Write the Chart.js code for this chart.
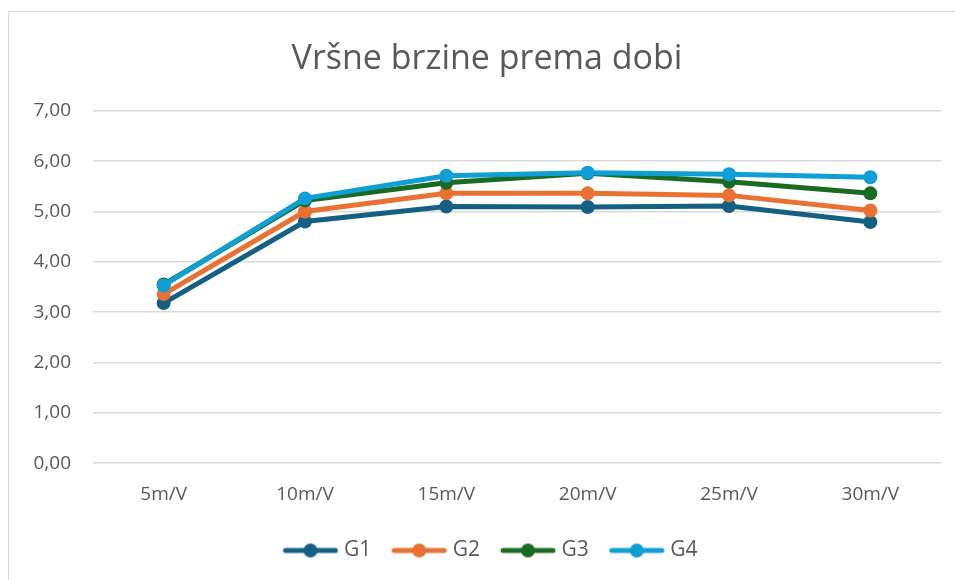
<!DOCTYPE html>
<html>
<head>
<meta charset="utf-8">
<script src="https://cdn.jsdelivr.net/npm/chart.js@4"></script>
<style>
    html, body { margin: 0; padding: 0; background: #ffffff; overflow: hidden; }
    #wrap {
        position: absolute;
        left: 8px;
        top: 11px;
        width: 947px;
        height: 569px;
        border-left: 1px solid #d9d9d9;
        border-top: 1px solid #d9d9d9;
    }
</style>
</head>
<body>
<div id="wrap"><canvas id="chart"></canvas></div>
<script>
// Categories and series
const categories = ['5m/V', '10m/V', '15m/V', '20m/V', '25m/V', '30m/V'];
const g1 = [3.18, 4.80, 5.10, 5.09, 5.11, 4.79];
const g2 = [3.36, 5.00, 5.36, 5.36, 5.32, 5.02];
const g3 = [3.55, 5.22, 5.57, 5.76, 5.59, 5.36];
const g4 = [3.53, 5.26, 5.71, 5.77, 5.74, 5.68];
const seriesNames = ['G1', 'G2', 'G3', 'G4'];
const seriesColors = ['#156082', '#E97132', '#196B24', '#0F9ED5'];
const yTicks = [0, 1, 2, 3, 4, 5, 6, 7];

const textColor = '#595959';
const gridColor = '#d9d9d9';

// Legend marker box: width of the marker image, and the reserved box
const markerBox = 57;

// Legend marker: short line with a dot in the middle, pushed to the right of the image
function legendMarker(color) {
    const c = document.createElement('canvas');
    c.width = markerBox + 10;
    c.height = 16;
    const ctx = c.getContext('2d');
    const x0 = c.width - 56;
    ctx.strokeStyle = color;
    ctx.lineWidth = 5;
    ctx.lineCap = 'round';
    ctx.beginPath();
    ctx.moveTo(x0 + 3, 8);
    ctx.lineTo(x0 + 53, 8);
    ctx.stroke();
    ctx.fillStyle = color;
    ctx.beginPath();
    ctx.arc(x0 + 28, 8, 7, 0, Math.PI * 2);
    ctx.fill();
    return c;
}
const markers = seriesColors.map(legendMarker);

const seriesData = [g1, g2, g3, g4];
const datasets = seriesData.map((d, i) => ({
    label: seriesNames[i],
    data: d,
    borderColor: seriesColors[i],
    backgroundColor: seriesColors[i],
    borderWidth: 5,
    pointRadius: 7,
    pointHoverRadius: 7,
    pointBorderWidth: 0,
    tension: 0,
    order: seriesData.length - i
}));

const ctx = document.getElementById('chart').getContext('2d');
new Chart(ctx, {
    type: 'line',
    data: { labels: categories, datasets: datasets },
    options: {
        responsive: true,
        maintainAspectRatio: false,
        animation: false,
        layout: {
            padding: { left: 24, right: 15, top: 0, bottom: 10 }
        },
        plugins: {
            title: {
                display: true,
                text: 'Vršne brzine prema dobi',
                color: textColor,
                font: { family: 'Open Sans', size: 34, weight: 'normal' },
                padding: { top: 27, bottom: 31 }
            },
            legend: {
                position: 'bottom',
                labels: {
                    color: textColor,
                    font: { family: 'Open Sans', size: 21 },
                    usePointStyle: true,
                    pointStyleWidth: markerBox,
                    padding: 14,
                    generateLabels: (chart) => {
                        const items = Chart.defaults.plugins.legend.labels.generateLabels(chart);
                        items.sort((a, b) => a.datasetIndex - b.datasetIndex);
                        items.forEach((it) => { it.pointStyle = markers[it.datasetIndex]; });
                        return items;
                    }
                }
            },
            tooltip: { enabled: false }
        },
        scales: {
            x: {
                offset: true,
                grid: { display: false, drawTicks: false },
                border: { display: false },
                ticks: {
                    color: textColor,
                    font: { family: 'Open Sans', size: 19 },
                    padding: 20
                }
            },
            y: {
                min: 0,
                max: 7,
                afterBuildTicks: (scale) => {
                    scale.ticks = yTicks.map(v => ({ value: v }));
                },
                afterFit: (scale) => { scale.width = 60; },
                grid: { color: gridColor, lineWidth: 1.5, drawTicks: false },
                border: { display: false },
                ticks: {
                    color: textColor,
                    font: { family: 'Open Sans', size: 19 },
                    padding: 22,
                    callback: (v) => Number(v).toFixed(2).replace('.', ',')
                }
            }
        }
    }
});
</script>
</body>
</html>
